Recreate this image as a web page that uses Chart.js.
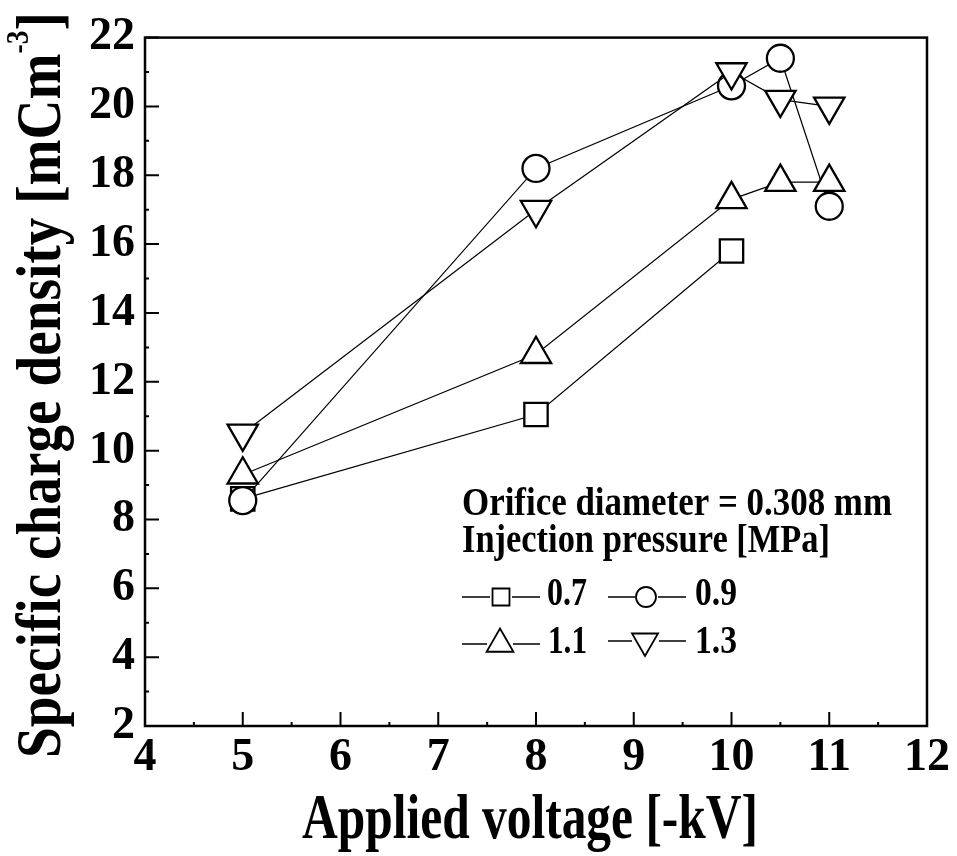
<!DOCTYPE html>
<html>
<head>
<meta charset="utf-8">
<script src="https://cdn.jsdelivr.net/npm/chart.js@4.4.0/dist/chart.umd.min.js"></script>
<style>
  html, body { margin: 0; padding: 0; background: #fff; }
  #wrap { width: 957px; height: 856px; }
</style>
</head>
<body>
<div id="wrap"><canvas id="chart"></canvas></div>
<script>
// ---- data ----
const pressures = ["0.7", "0.9", "1.1", "1.3"];
const voltage07 = [5, 8, 10];
const density07 = [8.6, 11.05, 15.8];
const voltage09 = [5, 8, 10, 10.5, 11];
const density09 = [8.55, 18.2, 20.6, 21.4, 17.1];
const voltage11 = [5, 8, 10, 10.5, 11];
const density11 = [9.3, 12.8, 17.3, 17.8, 17.8];
const voltage13 = [5, 8, 10, 10.5, 11];
const density13 = [10.5, 17.0, 21.0, 20.2, 20.0];

const xTicks = [4, 5, 6, 7, 8, 9, 10, 11, 12];
const yTicks = [2, 4, 6, 8, 10, 12, 14, 16, 18, 20, 22];

const SERIF = '"Liberation Serif", "Times New Roman", serif';

const toPoints = (xs, ys) => xs.map((x, i) => ({ x, y: ys[i] }));

// text squeezed horizontally to a given width (figure uses a condensed bold serif)
function fitText(ctx, text, x, y, font, width) {
  ctx.font = font;
  const w = ctx.measureText(text).width;
  ctx.save();
  ctx.translate(x, y);
  ctx.scale(width / w, 1);
  ctx.fillText(text, 0, 0);
  ctx.restore();
}

// ================== frame, inward ticks, titles, legend ==================
const decorPlugin = {
  id: "decor",
  afterDraw(chart) {
    const { ctx, chartArea: a, scales: { x, y } } = chart;
    ctx.save();
    ctx.strokeStyle = "#000";
    ctx.fillStyle = "#000";

    // ticks (inside)
    ctx.lineWidth = 2;
    ctx.beginPath();
    xTicks.forEach(v => {
      const px = x.getPixelForValue(v);
      ctx.moveTo(px, a.bottom); ctx.lineTo(px, a.bottom - 14);
      if (v < 12) {
        const pm = x.getPixelForValue(v + 0.5);
        ctx.moveTo(pm, a.bottom); ctx.lineTo(pm, a.bottom - 4);
      }
    });
    yTicks.forEach(v => {
      const py = y.getPixelForValue(v);
      ctx.moveTo(a.left, py); ctx.lineTo(a.left + 14, py);
      if (v < 22) {
        const pm = y.getPixelForValue(v + 1);
        ctx.moveTo(a.left, pm); ctx.lineTo(a.left + 4, pm);
      }
    });
    ctx.stroke();

    // frame
    ctx.lineWidth = 2.5;
    ctx.strokeRect(a.left, a.top, a.right - a.left, a.bottom - a.top);

    // x title
    ctx.textAlign = "left";
    ctx.textBaseline = "alphabetic";
    fitText(ctx, "Applied voltage [-kV]", 302, 838, "bold 64px " + SERIF, 456);

    // y title (rotated, with superscript)
    ctx.save();
    ctx.translate(60, 385);
    ctx.rotate(-Math.PI / 2);
    const mainFont = "bold 64px " + SERIF;
    const supFont = "bold 32px " + SERIF;
    ctx.font = mainFont;
    const wMain = ctx.measureText("Specific charge density [mCm").width;
    const wClose = ctx.measureText("]").width;
    ctx.font = supFont;
    const wSup = ctx.measureText("-3").width;
    const total = 746;
    const k = total / (wMain + wSup + wClose);
    ctx.translate(-total / 2, 0);
    ctx.scale(k, 1);
    ctx.font = mainFont;
    ctx.fillText("Specific charge density [mCm", 0, 0);
    ctx.font = supFont;
    ctx.fillText("-3", wMain, -32);
    ctx.font = mainFont;
    ctx.fillText("]", wMain + wSup, 0);
    ctx.restore();

    // legend block
    fitText(ctx, "Orifice diameter = 0.308 mm", 462, 515, "bold 40px " + SERIF, 430);
    fitText(ctx, "Injection pressure [MPa]", 462, 552, "bold 40px " + SERIF, 368);

    const rows = [
      { style: "rect", rot: 0, r: 12, cx: 501, cy: 597, l1: [462, 490], l2: [512, 540], tx: 547, ty: 605, tw: 40 },
      { style: "circle", rot: 0, r: 10, cx: 646, cy: 597, l1: [608, 635], l2: [658, 686], tx: 695, ty: 605, tw: 42 },
      { style: "triangle", rot: 0, r: 15.5, cx: 500, cy: 644, l1: [462, 487], l2: [513, 540], tx: 548, ty: 653, tw: 39 },
      { style: "triangle", rot: 180, r: 15, cx: 645, cy: 641, l1: [608, 632], l2: [659, 686], tx: 695, ty: 653, tw: 42 },
    ];
    rows.forEach((it, i) => {
      ctx.lineWidth = 1.3;
      ctx.beginPath();
      ctx.moveTo(it.l1[0], it.cy); ctx.lineTo(it.l1[1], it.cy);
      ctx.moveTo(it.l2[0], it.cy); ctx.lineTo(it.l2[1], it.cy);
      ctx.stroke();
      ctx.fillStyle = "#fff";
      ctx.lineWidth = 1.8;
      Chart.helpers.drawPoint(ctx, { pointStyle: it.style, rotation: it.rot, radius: it.r, borderWidth: 1.8 }, it.cx, it.cy);
      ctx.fillStyle = "#000";
      fitText(ctx, pressures[i], it.tx, it.ty, "bold 40px " + SERIF, it.tw);
    });

    ctx.restore();
  },
};

// ================== chart ==================
const common = {
  showLine: true,
  borderColor: "#000",
  borderWidth: 1.2,
  pointBorderColor: "#000",
  pointBackgroundColor: "#fff",
  pointBorderWidth: 2.3,
  pointHoverRadius: 0,
  tension: 0,
  clip: false,
};

const tickFont = { family: SERIF, weight: "bold", size: 46 };

new Chart(document.getElementById("chart"), {
  type: "line",
  data: {
    datasets: [
      { ...common, label: pressures[0], data: toPoints(voltage07, density07), pointStyle: "rect", pointRadius: 16.5, order: 4 },
      { ...common, label: pressures[1], data: toPoints(voltage09, density09), pointStyle: "circle", pointRadius: 13.5, order: 3 },
      { ...common, label: pressures[2], data: toPoints(voltage11, density11), pointStyle: "triangle", pointRadius: 17.5, order: 2 },
      { ...common, label: pressures[3], data: toPoints(voltage13, density13), pointStyle: "triangle", pointRotation: 180, pointRadius: 17.5, order: 1 },
    ],
  },
  options: {
    responsive: true,
    maintainAspectRatio: false,
    animation: false,
    layout: { padding: { top: 32, right: 30, left: 0, bottom: 0 } },
    plugins: { legend: { display: false }, tooltip: { enabled: false } },
    scales: {
      x: {
        type: "linear", min: 4, max: 12,
        afterBuildTicks: s => { s.ticks = xTicks.map(v => ({ value: v })); },
        afterFit: s => { s.height = 130; },
        grid: { display: false, drawTicks: false },
        border: { display: false },
        ticks: { font: tickFont, color: "#000", padding: 5, maxRotation: 0, autoSkip: false },
      },
      y: {
        type: "linear", min: 2, max: 22,
        afterBuildTicks: s => { s.ticks = yTicks.map(v => ({ value: v })); },
        afterFit: s => { s.width = 145; },
        grid: { display: false, drawTicks: false },
        border: { display: false },
        ticks: { font: tickFont, color: "#000", padding: 10, autoSkip: false },
      },
    },
  },
  plugins: [decorPlugin],
});
</script>
</body>
</html>
